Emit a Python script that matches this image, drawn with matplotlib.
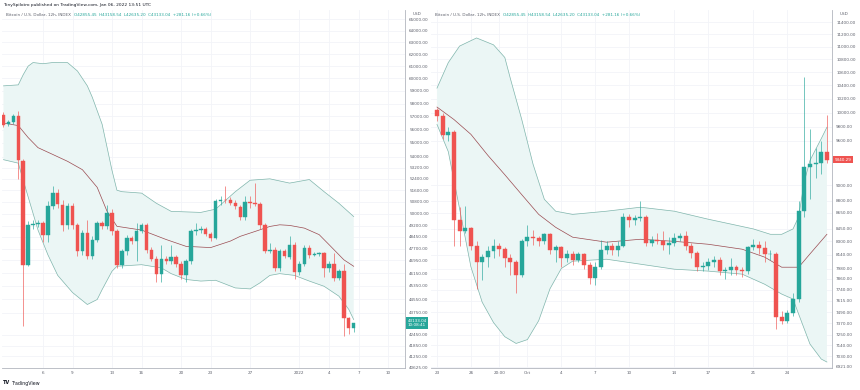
import matplotlib
matplotlib.use("Agg")
import matplotlib.pyplot as plt
import matplotlib.transforms as mtransforms
from matplotlib.ticker import FixedLocator, NullLocator, FuncFormatter
import numpy as np

# ---- left chart: BTC/USD 12h, Dec 2 2021 -> Jan 6 2022 ----
left_open = [57130, 56400, 56550, 57050, 53650, 46670, 49210, 49320, 49370, 48560,
             50540, 51440, 50610, 49210, 50490, 49210, 47520, 48710, 47200, 48280,
             49370, 49140, 50060, 48810, 46670, 47520, 48350, 48180, 48860, 49210,
             47630, 47050, 46110, 47050, 46880, 47130, 46740, 46000, 46880, 48810,
             48880, 48970, 48670, 48390, 50830, 50950, 50900, 50720, 50450, 49770,
             50760, 50720, 50650, 49210, 47520, 47630, 46470, 47520, 47170, 47950,
             46220, 46740, 47740, 47260, 47320, 47380, 46470, 46720, 45850, 46260,
             43440, 42855.45]
left_high = [57380, 56700, 57200, 57400, 53800, 49500, 49600, 49600, 49500, 50850,
             51900, 51700, 50900, 50750, 50700, 49400, 48900, 49600, 48500, 49500,
             49500, 50610, 50300, 49000, 47700, 48600, 48500, 49370, 49400, 49400,
             47800, 47200, 47900, 47200, 47900, 47300, 46900, 47000, 49000, 49400,
             49200, 49100, 48800, 51000, 51200, 51870, 51100, 50900, 50600, 51170,
             51170, 52110, 50800, 49400, 48060, 47800, 47700, 47700, 48490, 48100,
             46900, 47900, 47900, 47500, 47450, 47500, 46900, 47420, 46400, 46690,
             43500, 43158.54]
left_low = [56200, 56250, 56400, 52400, 42950, 46600, 49000, 49100, 48100, 48100,
            50300, 50400, 48810, 49000, 49000, 47200, 47300, 47000, 47000, 48100,
            49000, 49000, 48600, 46450, 46450, 47300, 48000, 46900, 48700, 47400,
            46900, 45600, 45600, 46700, 46700, 46500, 45800, 45600, 46700, 48600,
            48700, 48500, 48200, 48300, 50600, 50700, 50600, 50300, 49590, 49600,
            50400, 50500, 49000, 47400, 47420, 46300, 46300, 47100, 47000, 45750,
            46000, 46600, 47100, 47200, 47200, 45900, 46200, 45650, 45700, 42380,
            42480, 42635.20]
left_close = [56360, 56550, 57000, 53770, 46670, 49210, 49320, 49400, 48600, 50540,
              51440, 50650, 49210, 50490, 49210, 47520, 48710, 47200, 48280, 49370,
              49140, 50060, 48810, 46670, 47520, 48350, 48180, 48860, 49210, 47630,
              47050, 46110, 47050, 46880, 47130, 46740, 46000, 46880, 48810, 48880,
              48970, 48670, 48390, 50830, 50950, 50900, 50720, 50490, 49770, 50760,
              50720, 50650, 49210, 47520, 47630, 46470, 47520, 47200, 47950, 46220,
              46740, 47740, 47260, 47320, 47380, 46470, 46720, 45850, 46260, 43440,
              42851.88, 43133.04]

left_upper_idx = [0, 3, 4, 5, 6, 8, 10, 13, 15, 17, 18, 20, 22, 23, 24, 28, 31, 34,
                  40, 43, 47, 50, 54, 56, 58, 62, 65, 68, 71]
left_upper = [59400, 59480, 60300, 61000, 61300, 61200, 61300, 61290, 60600, 59400,
              58500, 56400, 53000, 51600, 51500, 51400, 50700, 50150, 50080, 50300,
              51500, 52300, 52400, 52250, 52100, 52350, 51500, 50700, 49800]
left_mid_idx = [0, 3, 5, 7, 10, 13, 16, 19, 21, 23, 28, 33, 37, 42, 46, 48, 51, 54,
                56, 58, 61, 64, 66, 69, 71]
left_mid = [56500, 56300, 55400, 54650, 54150, 53650, 53050, 51800, 50150, 49150,
            48900, 48280, 47840, 47760, 48180, 48490, 48810, 49140, 49250, 49210,
            49030, 48600, 47950, 46980, 46570]
left_lower_idx = [0, 3, 4, 7, 9, 11, 14, 17, 19, 20, 22, 23, 28, 32, 34, 37, 40, 43,
                  47, 50, 52, 54, 56, 59, 62, 65, 68, 70, 71]
left_lower = [53770, 53520, 52300, 48900, 47300, 46000, 44950, 44230, 44530, 45130,
              46260, 46570, 46670, 46470, 46110, 45750, 45650, 45700, 45230, 45170,
              45540, 46000, 46110, 46000, 45650, 45330, 44730, 43940, 43340]

left_ticks = [65000, 64000, 63000, 62000, 61000, 60000, 59000, 58000, 57000, 56000,
              55000, 54000, 53200, 52400, 51600, 50800, 50000, 49200, 48450, 47700,
              46950, 46150, 45350, 44550, 43750, 42450, 41850, 41250, 40625]
left_date_idx = [8, 14, 22, 28, 36, 42, 50, 60, 66, 72, 78]
left_date_labels = ["6", "9", "13", "16", "20", "23", "27", "2022", "4", "7", "10"]

# ---- right chart: BTC/USD 12h, Sep 23 -> Oct 27 2019 ----
right_open = [10030, 9950, 9680, 9720, 8560, 8430, 8460, 8250, 8060, 8110,
              8190, 8250, 8210, 8100, 8050, 7900, 8300, 8350, 8340, 8300,
              8390, 8200, 8230, 8100, 8150, 8080, 8150, 8020, 7870, 8000,
              8200, 8250, 8200, 8250, 8600, 8560, 8590, 8600, 8280, 8320,
              8300, 8260, 8280, 8340, 8360, 8250, 8160, 8000, 8010, 8050,
              8080, 7950, 7960, 8000, 7960, 7950, 8230, 8260, 8220, 8150,
              8150, 7440, 7400, 7480, 7640, 8670, 9240, 9280, 9300, 9450]
right_high = [10070, 9990, 9790, 9750, 8720, 8740, 8480, 8300, 8150, 8250,
              8330, 8280, 8230, 8150, 8080, 8330, 8500, 8440, 8360, 8400,
              8400, 8260, 8240, 8200, 8180, 8170, 8160, 8050, 8050, 8320,
              8300, 8280, 8300, 8650, 8640, 8620, 8800, 8620, 8370, 8400,
              8420, 8350, 8400, 8400, 8420, 8280, 8180, 8050, 8100, 8120,
              8110, 8000, 8100, 8020, 8000, 8250, 8330, 8300, 8300, 8200,
              8170, 7500, 7520, 7700, 8800, 10530, 9760, 9500, 9600, 9970]
right_low = [9880, 9620, 9600, 8250, 8240, 8400, 8200, 7750, 7850, 8000,
             8100, 8120, 8000, 7900, 7700, 7880, 8250, 8260, 8250, 8270,
             8150, 8050, 8000, 8050, 8020, 8050, 7980, 7800, 7790, 7980,
             8150, 8140, 8120, 8230, 8480, 8500, 8550, 8250, 8250, 8270,
             8200, 8150, 8250, 8300, 8200, 8100, 7950, 7950, 7960, 8000,
             7900, 7860, 7900, 7900, 7880, 7920, 8200, 8150, 8050, 8080,
             7310, 7360, 7380, 7450, 7600, 8600, 8820, 9100, 9150, 9300]
right_close = [9950, 9680, 9720, 8560, 8430, 8460, 8250, 8060, 8110, 8190,
               8250, 8210, 8100, 8050, 7900, 8300, 8350, 8340, 8300, 8390,
               8200, 8230, 8100, 8150, 8080, 8150, 8020, 7870, 8000, 8200,
               8250, 8200, 8250, 8600, 8560, 8590, 8600, 8280, 8320, 8300,
               8260, 8280, 8340, 8360, 8250, 8160, 8000, 8010, 8050, 8080,
               7950, 7960, 8000, 7960, 7950, 8230, 8260, 8220, 8150, 8150,
               7440, 7400, 7480, 7640, 8670, 9240, 9280, 9300, 9450, 9340]

right_upper_idx = [0, 2, 4, 7, 10, 12, 13, 15, 17, 19, 21, 24, 30, 36, 42, 48, 52,
                   56, 59, 61, 63, 64, 65, 66, 67, 68, 69]
right_upper = [10360, 10750, 11010, 11140, 11030, 10830, 10500, 9900, 9280, 8820,
               8670, 8630, 8670, 8720, 8670, 8570, 8510, 8450, 8385, 8385, 8450,
               8600, 9050, 9330, 9480, 9630, 9790]
right_mid_idx = [0, 3, 6, 9, 12, 15, 18, 21, 24, 30, 36, 42, 48, 54, 58, 61, 64, 66, 69]
right_mid = [10080, 9900, 9690, 9400, 9140, 8880, 8630, 8470, 8350, 8290, 8325, 8300,
             8265, 8206, 8112, 7995, 7995, 8150, 8385]
right_lower_idx = [0, 2, 4, 6, 8, 10, 12, 14, 16, 18, 20, 22, 24, 30, 36, 42, 48, 54,
                   58, 61, 63, 64, 66, 68, 69]
right_lower = [9830, 9450, 8700, 8000, 7600, 7380, 7230, 7160, 7200, 7400, 7750, 7980,
               8065, 8088, 8030, 7972, 7950, 7915, 7800, 7690, 7635, 7470, 7154, 7000,
               6970]

right_ticks = [11400, 11200, 11000, 10800, 10600, 10400, 10200, 10000, 9800, 9600,
               9000, 8800, 8650, 8450, 8300, 8140, 7980, 7860, 7740, 7615, 7490,
               7370, 7250, 7140, 7030, 6921]
right_date_idx = [0, 6, 11, 16, 22, 28, 34, 42, 48, 56, 62]
right_date_labels = ["23", "26", "20:00", "Oct", "4", "7", "10", "14", "17", "21", "24"]

legend_name = "Bitcoin / U.S. Dollar, 12h, INDEX  "
legend_ohlc = "O42855.45  H43158.54  L42635.20  C43133.04  +281.16 (+0.66%)"

UP = "#26a69a"
DOWN = "#ef5350"
BAND = "#7fb5ac"
BASIS = "#9a4a50"
FILL = "#ebf6f5"
GRID = "#f2f4f8"
TXT = "#5d606b"


def draw_panel(ax, o, h, l, c, up_i, up, mid_i, mid, lo_i, lo, ticks,
               date_i, date_lab, xlim, ylim, last_txt, last_col):
    o, h, l, c = map(np.array, (o, h, l, c))
    x = np.arange(len(o))
    ax.set_yscale("log")

    # bollinger band
    ax.fill(np.r_[up_i, lo_i[::-1]], np.r_[up, lo[::-1]], color=FILL, lw=0, zorder=1)
    ax.plot(up_i, up, color=BAND, lw=0.5, zorder=2)
    ax.plot(lo_i, lo, color=BAND, lw=0.5, zorder=2)
    ax.plot(mid_i, mid, color=BASIS, lw=0.5, zorder=2)

    # candles
    cols = np.where(c >= o, UP, DOWN)
    ax.vlines(x, l, h, colors=cols, lw=0.45, zorder=3)
    ax.bar(x, np.abs(c - o), bottom=np.minimum(o, c), width=0.7, color=cols,
           edgecolor=cols, linewidth=0.3, zorder=4)

    # last price label
    tr = mtransforms.blended_transform_factory(ax.transAxes, ax.transData)
    ax.text(1.006, c[-1], last_txt, transform=tr, fontsize=3, color="white",
            va="center", ha="left", linespacing=1.1,
            bbox=dict(facecolor=last_col, edgecolor="none", pad=1.2), zorder=6, clip_on=False)
    ax.text(1.02, 0.989, "USD", transform=ax.transAxes, fontsize=3, color=TXT,
            va="center", ha="left")

    ax.set_xlim(*xlim)
    ax.set_ylim(*ylim)
    ax.yaxis.set_major_locator(FixedLocator(ticks))
    ax.yaxis.set_minor_locator(NullLocator())
    ax.yaxis.set_major_formatter(FuncFormatter(lambda v, p: f"{v:.2f}"))
    ax.yaxis.tick_right()
    ax.set_xticks(date_i, date_lab)
    ax.tick_params(axis="y", length=0, pad=3, labelsize=3, labelcolor=TXT)
    ax.tick_params(axis="x", length=0, pad=2.5, labelsize=3, labelcolor=TXT)
    ax.grid(True, color=GRID, lw=0.6, zorder=0)
    ax.set_axisbelow(True)
    for s in ("top", "left"):
        ax.spines[s].set_visible(False)
    for s in ("right", "bottom"):
        ax.spines[s].set_color("#b2b5be")
        ax.spines[s].set_linewidth(0.6)

    t1 = ax.text(0.01, 0.986, legend_name, transform=ax.transAxes, fontsize=3,
                 color=TXT, va="center", ha="left")
    ax.annotate(legend_ohlc, xy=(1, 0.5), xycoords=t1, fontsize=3, color=UP,
                va="center", ha="left")


fig = plt.figure(figsize=(8.6, 3.9), dpi=100)
fig.patch.set_facecolor("white")
W, H = 860, 390

ax1 = fig.add_axes([2 / W, 22 / H, 403 / W, 358 / H])
draw_panel(ax1, left_open, left_high, left_low, left_close,
           np.array(left_upper_idx), np.array(left_upper),
           np.array(left_mid_idx), np.array(left_mid),
           np.array(left_lower_idx), np.array(left_lower),
           left_ticks, left_date_idx, left_date_labels,
           (-0.3, 81.4), (40600, 65800), "43133.04\n10:08:41", UP)

ax2 = fig.add_axes([431 / W, 22 / H, 401 / W, 358 / H])
draw_panel(ax2, right_open, right_high, right_low, right_close,
           np.array(right_upper_idx), np.array(right_upper),
           np.array(right_mid_idx), np.array(right_mid),
           np.array(right_lower_idx), np.array(right_lower),
           right_ticks, right_date_idx, right_date_labels,
           (-1.06, 69.9), (6910, 11600), "9340.29", DOWN)

fig.text(3 / W, 1 - 5 / H, "TonySpilotro published on TradingView.com, Jan 06, 2022 13:51 UTC",
         fontsize=3.2, color="#131722", va="center", ha="left")
fig.text(3 / W, 1 - 383 / H, "TV", fontsize=3.6, fontweight="bold",
         color="#131722", va="center", ha="left")
fig.text(12 / W, 1 - 383 / H, "TradingView", fontsize=3.4, color="#131722",
         va="center", ha="left")

fig.savefig("out.png", dpi=100, facecolor="white")
